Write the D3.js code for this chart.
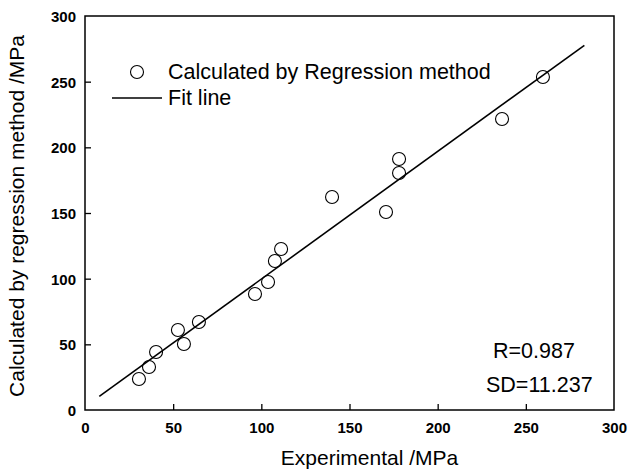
<!DOCTYPE html>
<html><head><meta charset="utf-8">
<script src="https://cdn.jsdelivr.net/npm/d3@7"></script>
<style>body{margin:0;background:#fff}svg{display:block}text{font-family:"Liberation Sans",Arial,sans-serif}</style>
</head><body><svg id="c" width="630" height="475"></svg>
<script>
const experimental = [30.6, 36.3, 40.3, 52.7, 56.1, 64.6, 96.4, 103.8, 107.7, 111.2, 140.1, 170.7, 178.1, 178.1, 236.5, 259.7];
const calculated   = [23.6, 32.7, 44.2, 60.9, 50.3, 67.0, 88.3, 97.5, 113.5, 122.6, 162.2, 150.8, 191.1, 180.5, 221.6, 253.6];
const fitX = [8.1, 283.2];
const fitY = [10.4, 277.7];
const ticks = [0, 50, 100, 150, 200, 250, 300];
const legendLabels = ["Calculated by Regression method", "Fit line"];
const statsLabels = ["R=0.987", "SD=11.237"];
const xTitle = "Experimental /MPa";
const yTitle = "Calculated by regression method /MPa";

const svg = d3.select("#c");
const L = 85, R = 614, T = 16, B = 410;
const x = d3.scaleLinear().domain([0, 300]).range([L, R]);
const y = d3.scaleLinear().domain([0, 300]).range([B, T]);

// frame
svg.append("rect").attr("x", L).attr("y", T).attr("width", R - L).attr("height", B - T)
  .attr("fill", "none").attr("stroke", "#000").attr("stroke-width", 1.5);

// axes
const xa = svg.append("g").attr("transform", `translate(0,${B})`)
  .call(d3.axisBottom(x).tickValues(ticks).tickSizeInner(-6).tickSizeOuter(0).tickPadding(12));
const ya = svg.append("g").attr("transform", `translate(${L},0)`)
  .call(d3.axisLeft(y).tickValues(ticks).tickSizeInner(-6).tickSizeOuter(0).tickPadding(9));
[xa, ya].forEach(g => {
  g.select(".domain").remove();
  g.selectAll("line").attr("stroke", "#000").attr("stroke-width", 1.3);
  g.selectAll("text").attr("font-size", 15).attr("font-weight", "bold").attr("fill", "#000")
   .style("font-family", '"Liberation Sans",Arial,sans-serif');
});
xa.selectAll(".tick").filter(d => d === 0 || d === 300).select("line").remove();
ya.selectAll(".tick").filter(d => d === 0 || d === 300).select("line").remove();
ya.selectAll("text").attr("dy", "0.36em");

// fit line
svg.append("line").attr("x1", x(fitX[0])).attr("y1", y(fitY[0])).attr("x2", x(fitX[1])).attr("y2", y(fitY[1]))
  .attr("stroke", "#000").attr("stroke-width", 1.6);

// points
svg.append("g").selectAll("circle").data(experimental).join("circle")
  .attr("cx", d => x(d)).attr("cy", (d, i) => y(calculated[i])).attr("r", 6.5)
  .attr("fill", "none").attr("stroke", "#000").attr("stroke-width", 1.1);

// legend
svg.append("circle").attr("cx", 137).attr("cy", 72).attr("r", 6.5).attr("fill", "none").attr("stroke", "#000").attr("stroke-width", 1.1);
svg.append("line").attr("x1", 112).attr("x2", 162).attr("y1", 98).attr("y2", 98).attr("stroke", "#000").attr("stroke-width", 1.6);
svg.append("text").attr("x", 168).attr("y", 79).attr("font-size", 21.5).text(legendLabels[0]);
svg.append("text").attr("x", 168).attr("y", 105).attr("font-size", 21.5).text(legendLabels[1]);

// stats
svg.append("text").attr("x", 493).attr("y", 358).attr("font-size", 21.5).text(statsLabels[0]);
svg.append("text").attr("x", 486).attr("y", 392).attr("font-size", 21.5).text(statsLabels[1]);

// titles
svg.append("text").attr("x", (L + R) / 2 + 20).attr("y", 465).attr("text-anchor", "middle").attr("font-size", 21).text(xTitle);
svg.append("text").attr("transform", "translate(24,216) rotate(-90)").attr("text-anchor", "middle").attr("font-size", 21).text(yTitle);
</script></body></html>
